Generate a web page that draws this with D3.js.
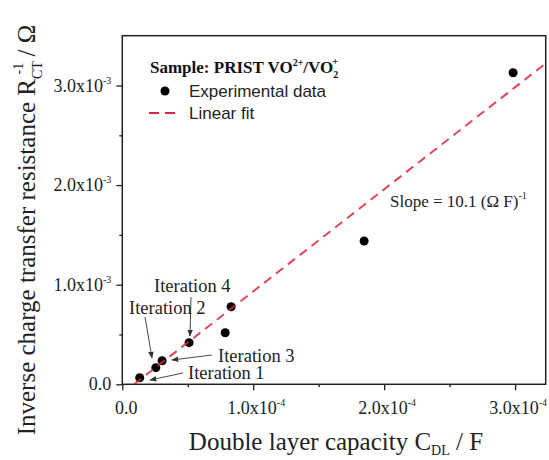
<!DOCTYPE html>
<html>
<head>
<meta charset="utf-8">
<script src="https://cdn.jsdelivr.net/npm/d3@7/dist/d3.min.js"></script>
<style>
  body { margin: 0; background: #fff; }
  svg { display: block; }
  .serif { font-family: "Liberation Serif", "Times New Roman", serif; }
  .sans { font-family: "Liberation Sans", Arial, sans-serif; }
</style>
</head>
<body>
<svg id="chart"></svg>
<script>
// data
const capacity = [0.133e-4, 0.256e-4, 0.304e-4, 0.510e-4, 0.786e-4, 0.831e-4, 1.847e-4, 2.985e-4];
const invRct = [0.066e-3, 0.167e-3, 0.237e-3, 0.418e-3, 0.518e-3, 0.779e-3, 1.439e-3, 3.128e-3];
const fitX = [0.09e-4, 3.30e-4];
const fitY = [0, 3.29e-3];
const xMajor = [0, 1e-4, 2e-4, 3e-4];
const xMinor = [0.5e-4, 1.5e-4, 2.5e-4];
const yMajor = [0, 1e-3, 2e-3, 3e-3];
const yMinor = [0.5e-3, 1.5e-3, 2.5e-3];
const iterations = [
  { name: "Iteration 1", lx: 188, ly: 379, from: [183, 373], to: [150, 380] },
  { name: "Iteration 2", lx: 129, ly: 314, from: [145, 317], to: [152, 358] },
  { name: "Iteration 3", lx: 218, ly: 362, from: [212, 355], to: [172, 360] },
  { name: "Iteration 4", lx: 154, ly: 292, from: [191, 297], to: [190, 336] }
];

const width = 549, height = 460;
const x0 = 122.3, x1 = 545.7, y0 = 384.3, y1 = 35.7;

const svg = d3.select("#chart")
  .attr("width", width)
  .attr("height", height)
  .attr("viewBox", [0, 0, width, height]);

const x = d3.scaleLinear().domain([0, 3.234e-4]).range([x0, x1]);
const y = d3.scaleLinear().domain([0, 3.5e-3]).range([y0, y1]);

svg.append("defs").append("clipPath").attr("id", "clip")
  .append("rect").attr("x", x0).attr("y", y1).attr("width", x1 - x0).attr("height", y0 - y1);

const marker = svg.select("defs").append("marker")
  .attr("id", "arrow")
  .attr("viewBox", "0 0 10 10")
  .attr("refX", 9).attr("refY", 5)
  .attr("markerWidth", 7).attr("markerHeight", 7)
  .attr("markerUnits", "userSpaceOnUse")
  .attr("orient", "auto");
marker.append("path").attr("d", "M0,1 L10,5 L0,9 Z").attr("fill", "#333");

// axes (ticks only, labels drawn by hand for superscripts)
svg.append("g").attr("transform", `translate(0,${y0})`)
  .call(d3.axisBottom(x).tickValues(xMajor).tickSize(6).tickFormat(""));
svg.append("g").attr("transform", `translate(0,${y0})`)
  .call(d3.axisBottom(x).tickValues(xMinor).tickSize(3).tickFormat(""));
svg.append("g").attr("transform", `translate(${x0},0)`)
  .call(d3.axisLeft(y).tickValues(yMajor).tickSize(6).tickFormat(""));
svg.append("g").attr("transform", `translate(${x0},0)`)
  .call(d3.axisLeft(y).tickValues(yMinor).tickSize(3).tickFormat(""));
svg.selectAll(".domain").remove();
svg.selectAll(".tick line").attr("stroke", "#222").attr("stroke-width", 1.3);

// frame
svg.append("rect")
  .attr("x", x0).attr("y", y1)
  .attr("width", x1 - x0).attr("height", y0 - y1)
  .attr("fill", "none").attr("stroke", "#222").attr("stroke-width", 1.5);

function sciLabel(sel, v, exp) {
  if (v === 0) { sel.text("0.0"); return; }
  const m = (v / Math.pow(10, exp)).toFixed(1);
  sel.append("tspan").text(m + "x10");
  sel.append("tspan").attr("dy", -8).attr("font-size", 10).text(exp);
}

svg.append("g").selectAll("text")
  .data(xMajor)
  .join("text")
  .attr("class", "serif")
  .attr("x", d => x(d) + (d === 0 ? 4 : 3))
  .attr("y", y0 + 30)
  .attr("text-anchor", "middle")
  .attr("font-size", 18)
  .attr("fill", "#222")
  .each(function (d) { sciLabel(d3.select(this), d, -4); });

svg.append("g").selectAll("text")
  .data(yMajor)
  .join("text")
  .attr("class", "serif")
  .attr("x", x0 - 11)
  .attr("y", d => y(d) + 6)
  .attr("text-anchor", "end")
  .attr("font-size", 18)
  .attr("fill", "#222")
  .each(function (d) { sciLabel(d3.select(this), d, -3); });

// axis titles
const xt = svg.append("text").attr("class", "serif")
  .attr("x", 336).attr("y", 450)
  .attr("text-anchor", "middle").attr("font-size", 25).attr("fill", "#222");
xt.append("tspan").text("Double layer capacity C");
xt.append("tspan").attr("dy", 5).attr("font-size", 14).text("DL");
xt.append("tspan").attr("dy", -5).text(" / F");

const yt = svg.append("text").attr("class", "serif")
  .attr("transform", `translate(35,${230}) rotate(-90)`)
  .attr("text-anchor", "middle").attr("font-size", 25).attr("fill", "#222");
yt.append("tspan").text("Inverse charge transfer resistance R");
yt.append("tspan").attr("dy", 7).attr("font-size", 14).text("CT");
yt.append("tspan").attr("dy", -19).attr("font-size", 14).attr("dx", -12).text("-1");
yt.append("tspan").attr("dy", 12).text(" / Ω");

// points
svg.append("g").selectAll("circle")
  .data(capacity)
  .join("circle")
  .attr("cx", d => x(d))
  .attr("cy", (d, i) => y(invRct[i]))
  .attr("r", 4.5)
  .attr("fill", "#000");

// linear fit
const line = d3.line().x(d => x(d[0])).y(d => y(d[1]));
svg.append("path")
  .datum(d3.zip(fitX, fitY))
  .attr("clip-path", "url(#clip)")
  .attr("d", line)
  .attr("fill", "none")
  .attr("stroke", "#d8283c")
  .attr("stroke-width", 2)
  .attr("stroke-opacity", 0.85)
  .attr("stroke-dasharray", "9,6");

// iteration labels with arrows
const it = svg.append("g");
it.selectAll("line")
  .data(iterations)
  .join("line")
  .attr("x1", d => d.from[0]).attr("y1", d => d.from[1])
  .attr("x2", d => d.to[0]).attr("y2", d => d.to[1])
  .attr("stroke", "#333").attr("stroke-width", 0.9)
  .attr("marker-end", "url(#arrow)");
it.selectAll("text")
  .data(iterations)
  .join("text")
  .attr("class", "serif")
  .attr("x", d => d.lx).attr("y", d => d.ly)
  .attr("font-size", 18.5)
  .attr("fill", "#222")
  .text(d => d.name);

// slope annotation
const st = svg.append("text").attr("class", "serif")
  .attr("x", 390).attr("y", 207).attr("font-size", 17).attr("fill", "#222");
st.append("tspan").text("Slope = 10.1 (Ω F)");
st.append("tspan").attr("dy", -8).attr("font-size", 10).text("-1");

// legend
const lg = svg.append("g");
const title = lg.append("text").attr("class", "serif")
  .attr("x", 150).attr("y", 73).attr("font-size", 17)
  .attr("font-weight", "bold").attr("fill", "#111");
title.append("tspan").text("Sample: PRIST VO");
title.append("tspan").attr("dy", -7).attr("font-size", 10).text("2+");
title.append("tspan").attr("dy", 7).text("/VO");
title.append("tspan").attr("dy", 5).attr("font-size", 10).text("2");
title.append("tspan").attr("dy", -13).attr("font-size", 10).attr("dx", -6).text("+");

lg.append("circle").attr("cx", 165).attr("cy", 91).attr("r", 4.5).attr("fill", "#000");
lg.append("text").attr("class", "sans")
  .attr("x", 189).attr("y", 97).attr("font-size", 17).attr("fill", "#222")
  .text("Experimental data");
lg.append("line")
  .attr("x1", 149).attr("x2", 181).attr("y1", 113).attr("y2", 113)
  .attr("stroke", "#d8283c").attr("stroke-width", 2).attr("stroke-dasharray", "10,6");
lg.append("text").attr("class", "sans")
  .attr("x", 189).attr("y", 119).attr("font-size", 17).attr("fill", "#222")
  .text("Linear fit");
</script>
</body>
</html>
